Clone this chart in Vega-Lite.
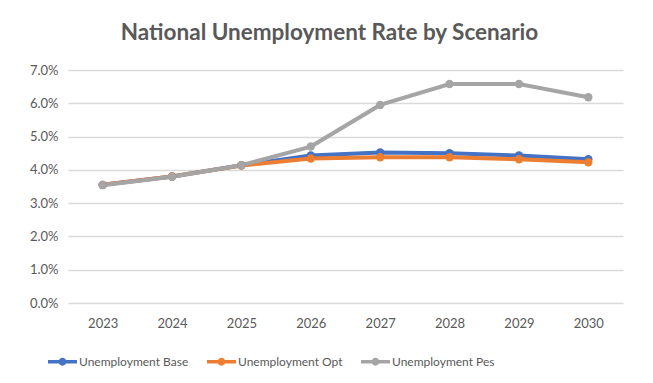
{
  "$schema": "https://vega.github.io/schema/vega-lite/v6.json",
  "width": 555,
  "height": 233,
  "autosize": {"type": "none"},
  "padding": {"left": 68, "top": 70, "right": 30, "bottom": 80},
  "background": "white",
  "config": {
    "font": "Lato",
    "view": {"stroke": null}
  },
  "title": {
    "text": "National Unemployment Rate by Scenario",
    "fontSize": 22.5,
    "fontWeight": "bold",
    "color": "#595959",
    "font": "Lato",
    "anchor": "middle",
    "dx": -16,
    "offset": 20
  },
  "data": {
    "values": [
      {"year": "2023", "series": "Unemployment Base", "rate": 0.0355},
      {"year": "2024", "series": "Unemployment Base", "rate": 0.0380},
      {"year": "2025", "series": "Unemployment Base", "rate": 0.0414},
      {"year": "2026", "series": "Unemployment Base", "rate": 0.0443},
      {"year": "2027", "series": "Unemployment Base", "rate": 0.0452},
      {"year": "2028", "series": "Unemployment Base", "rate": 0.0450},
      {"year": "2029", "series": "Unemployment Base", "rate": 0.0443},
      {"year": "2030", "series": "Unemployment Base", "rate": 0.0432},
      {"year": "2023", "series": "Unemployment Opt", "rate": 0.0355},
      {"year": "2024", "series": "Unemployment Opt", "rate": 0.0380},
      {"year": "2025", "series": "Unemployment Opt", "rate": 0.0413},
      {"year": "2026", "series": "Unemployment Opt", "rate": 0.0434},
      {"year": "2027", "series": "Unemployment Opt", "rate": 0.0438},
      {"year": "2028", "series": "Unemployment Opt", "rate": 0.0438},
      {"year": "2029", "series": "Unemployment Opt", "rate": 0.0432},
      {"year": "2030", "series": "Unemployment Opt", "rate": 0.0423},
      {"year": "2023", "series": "Unemployment Pes", "rate": 0.0354},
      {"year": "2024", "series": "Unemployment Pes", "rate": 0.0379},
      {"year": "2025", "series": "Unemployment Pes", "rate": 0.0414},
      {"year": "2026", "series": "Unemployment Pes", "rate": 0.0470},
      {"year": "2027", "series": "Unemployment Pes", "rate": 0.0595},
      {"year": "2028", "series": "Unemployment Pes", "rate": 0.0658},
      {"year": "2029", "series": "Unemployment Pes", "rate": 0.0658},
      {"year": "2030", "series": "Unemployment Pes", "rate": 0.0618}
    ]
  },
  "encoding": {
    "x": {
      "field": "year",
      "type": "ordinal",
      "scale": {"type": "point", "padding": 0.5},
      "axis": {
        "title": null,
        "labelAngle": 0,
        "labelFontSize": 13,
        "labelColor": "#595959",
        "labelPadding": 14,
        "ticks": false,
        "domain": false,
        "grid": false
      }
    },
    "y": {
      "field": "rate",
      "type": "quantitative",
      "scale": {"domain": [0, 0.07], "nice": false},
      "axis": {
        "title": null,
        "values": [0, 0.01, 0.02, 0.03, 0.04, 0.05, 0.06, 0.07],
        "format": ".1%",
        "labelFontSize": 13,
        "labelColor": "#595959",
        "labelPadding": 10,
        "ticks": false,
        "domain": false,
        "gridColor": "#d9d9d9",
        "gridWidth": 1.3
      }
    },
    "color": {
      "field": "series",
      "type": "nominal",
      "scale": {
        "domain": ["Unemployment Base", "Unemployment Opt", "Unemployment Pes"],
        "range": ["#4472C4", "#ED7D31", "#A5A5A5"]
      },
      "legend": {
        "title": null,
        "orient": "none",
        "direction": "horizontal",
        "legendX": -20,
        "legendY": 277,
        "symbolType": "M-1,-0.12H1V0.12H-1Z M-0.27,0A0.27,0.27 0 1,1 0.27,0A0.27,0.27 0 1,1 -0.27,0Z",
        "symbolSize": 841,
        "symbolStrokeWidth": 0,
        "labelFontSize": 12,
        "labelColor": "#595959",
        "labelOffset": 2,
        "columnPadding": 18,
        "encode": {
          "symbols": {
            "update": {
              "fill": {"scale": "color", "field": "value"},
              "strokeWidth": {"value": 0}
            }
          }
        }
      }
    }
  },
  "layer": [
    {"mark": {"type": "line", "strokeWidth": 4}},
    {"mark": {"type": "point", "filled": true, "size": 70, "opacity": 1}}
  ]
}
